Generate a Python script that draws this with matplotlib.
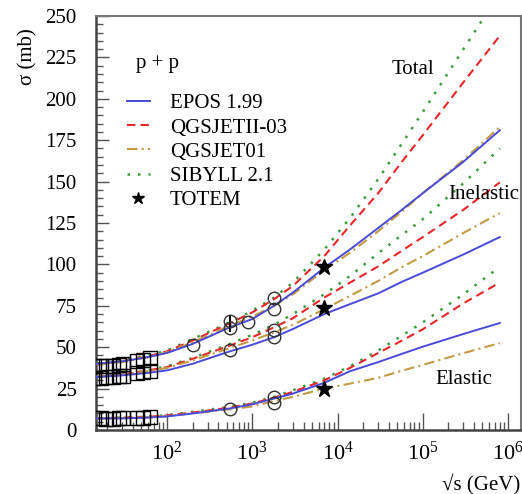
import numpy as np
import matplotlib
matplotlib.use("Agg")
import matplotlib.pyplot as plt
from matplotlib.ticker import LogLocator, MultipleLocator, FuncFormatter, NullFormatter
from matplotlib.lines import Line2D

plt.rcParams['font.family'] = ['Liberation Serif', 'DejaVu Serif']
plt.rcParams['mathtext.fontset'] = 'custom'
plt.rcParams['mathtext.rm'] = 'Liberation Serif'
plt.rcParams['mathtext.it'] = 'Liberation Serif:italic'

# model curves, sqrt(s) in GeV
e_grid = [15, 30, 60, 100, 200, 546, 1000, 1800, 3000, 7000, 14000, 30000,
          57000, 1e5, 3e5, 8e5]

epos_tot = [40, 41.5, 44, 46.5, 52, 62, 67, 75, 83, 98, 109, 122, 133, 143, 162, 181]
epos_inel = [32, 33, 34.5, 36, 40, 47.5, 51.5, 56, 61, 70, 76, 82.5, 89.5, 95, 106, 116.5]
epos_el = [7, 7, 7.5, 8.2, 10, 13, 15.5, 19, 22, 28.5, 35.5, 41, 46, 50.3, 58, 64.6]

qgs2_tot = [39.5, 41.5, 44.5, 47.5, 54, 64.5, 71, 79, 87, 105, 123.5, 143, 162, 178, 210, 238]
qgs2_inel = [32, 33.5, 36, 38, 43, 51, 56, 62, 67.5, 80, 89, 98.8, 108.3, 116.5, 133, 149.5]
qgs2_el = [7, 7.5, 8, 8.8, 10.5, 13.5, 16, 19.5, 23, 30, 37.5, 46.5, 54, 60.8, 76.5, 89]

qgs1_tot = [39.5, 41, 44, 47, 53, 63, 68.5, 75, 82, 96.5, 107, 120, 132, 143, 163, 183]
qgs1_inel = [32, 33.5, 35.5, 37.5, 42, 49.5, 54, 59, 63.5, 73, 81, 90, 98.4, 105, 119, 131]
qgs1_el = [7, 7.2, 7.7, 8.4, 10, 12.5, 14.2, 17.5, 20, 25, 28, 31.5, 35.8, 39.3, 46.4, 52.5]

sib_tot = [40, 42, 45, 48, 55, 65, 72, 80, 89, 109, 128, 151.5, 173, 192, 230, 264]
sib_inel = [32, 33.5, 36, 38.5, 43.5, 52, 57.5, 63.5, 70, 82, 93, 106.7, 117.8, 127.3, 149, 170]
sib_el = [7, 7.5, 8, 9, 11, 14, 16.5, 20, 24, 31, 38.5, 48, 57, 65, 82, 98.5]

# data
sq_e = [13.8, 16.7, 19.4, 23.5, 27.4, 30.6, 44.7, 52.8, 62.7]
sq_tot = [38.5, 38.6, 38.9, 38.9, 39.5, 40.1, 41.8, 42.4, 43.6]
sq_inel = [31.5, 31.6, 32.0, 32.2, 32.5, 32.9, 34.5, 34.9, 35.7]
sq_el = [7.0, 7.0, 6.9, 6.8, 7.0, 7.2, 7.3, 7.5, 7.9]

ci_tot_e = [200, 546, 546, 900, 1800, 1800]
ci_tot = [51.6, 61.5, 66.0, 65.3, 80.0, 72.8]
ci_inel_e = [546, 1800, 1800]
ci_inel = [48.4, 60.3, 56.0]
ci_el_e = [546, 1800, 1800]
ci_el = [12.9, 19.7, 16.6]

totem_e = [7000, 7000, 7000]
totem_val = [98.3, 73.5, 24.8]

models = ["EPOS 1.99", "QGSJETII-03", "QGSJET01", "SIBYLL 2.1"]
colors = ["#4a4ad8", "#e8262a", "#c39a45", "#3b9a3b"]
styles = ["-", (0, (4, 2.5)), (0, (5, 2, 1, 2)), (0, (1, 3.2))]

fig = plt.figure(figsize=(5.22, 4.94), dpi=100)
ax = fig.add_axes([96 / 522, 64 / 494, 425 / 522, 414 / 494])

curves = [(epos_tot, epos_inel, epos_el), (qgs2_tot, qgs2_inel, qgs2_el),
          (qgs1_tot, qgs1_inel, qgs1_el), (sib_tot, sib_inel, sib_el)]
lws = [1.4, 1.5, 1.5, 1.8]
for i in [3, 1, 2, 0]:
    for ys in curves[i]:
        ax.plot(e_grid, ys, color=colors[i], ls=styles[i], lw=lws[i], zorder=3)

for ys in [sq_tot, sq_inel, sq_el]:
    ax.plot(sq_e, ys, ls="none", marker="s", ms=10, mfc="none", mec="black", mew=1.0, zorder=4)
ax.errorbar([546], [64], yerr=[[5], [5]], fmt="none", ecolor="black", elinewidth=1.5, zorder=4)
ax.plot(ci_tot_e, ci_tot, ls="none", marker="o", ms=9, mfc="none", mec="#333333", mew=1.0, zorder=4)
ax.plot(ci_inel_e, ci_inel, ls="none", marker="o", ms=9, mfc="none", mec="#333333", mew=1.0, zorder=4)
ax.plot(ci_el_e, ci_el, ls="none", marker="o", ms=9, mfc="none", mec="#333333", mew=1.0, zorder=4)
ax.plot(totem_e, totem_val, ls="none", marker="*", ms=12, color="black", zorder=5)

ax.set_xscale("log")
ax.set_xlim(14.7, 1.42e6)
ax.set_ylim(0, 250)

ax.xaxis.set_major_locator(LogLocator(base=10, numticks=10))
ax.xaxis.set_minor_locator(LogLocator(base=10, subs=np.arange(2, 10), numticks=20))
ax.xaxis.set_major_formatter(FuncFormatter(lambda v, p: r"$10^{%d}$" % round(np.log10(v))))
ax.xaxis.set_minor_formatter(NullFormatter())
ax.yaxis.set_major_locator(MultipleLocator(25))
ax.yaxis.set_minor_locator(MultipleLocator(5))

ax.tick_params(which="both", direction="in", top=False, right=False, color="#555555")
ax.tick_params(axis="x", which="major", length=12, width=1.0, labelsize=16, pad=8)
ax.tick_params(axis="x", which="minor", length=6, width=1.0)
ax.tick_params(axis="y", which="major", length=9, width=1.0, labelsize=15, pad=14)
ax.tick_params(axis="y", which="minor", length=5, width=1.0)
for side in ["left", "bottom"]:
    ax.spines[side].set_linewidth(1.8)
    ax.spines[side].set_color("#444444")
for side in ["top", "right"]:
    ax.spines[side].set_linewidth(1.5)
    ax.spines[side].set_color("#777777")

handles = [Line2D([], [], color=colors[i], ls=styles[i], lw=lws[i]) for i in range(4)]
handles.append(Line2D([], [], ls="none", marker="*", ms=9, color="black"))
ax.legend(handles, models + ["TOTEM"], loc="upper left", bbox_to_anchor=(0.073, 0.812),
          frameon=False, handlelength=1.1, handletextpad=0.95, labelspacing=0.22,
          borderpad=0, borderaxespad=0, fontsize=15)

ax.text(0.144, 0.886, "p + p", transform=ax.transAxes, fontsize=15, ha="center", va="center")
ax.text(0.745, 0.870, "Total", transform=ax.transAxes, fontsize=15, ha="center", va="center")
ax.text(0.913, 0.570, "Inelastic", transform=ax.transAxes, fontsize=15, ha="center", va="center")
ax.text(0.866, 0.121, "Elastic", transform=ax.transAxes, fontsize=15, ha="center", va="center")

fig.text(28 / 522, 1 - 57 / 494, "σ (mb)", rotation=90, fontsize=15, ha="center", va="center")
fig.text(520 / 522, 1 - 484 / 494, "√s (GeV)", fontsize=15, ha="right", va="center")

fig.savefig("out.png", dpi=100)
